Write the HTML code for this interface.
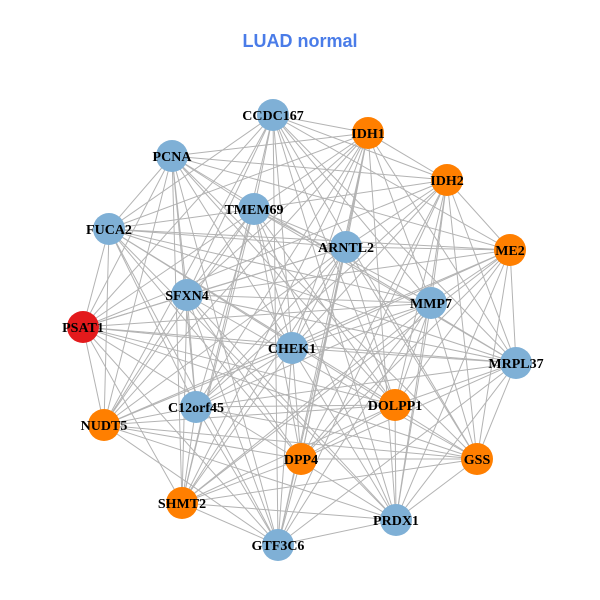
<!DOCTYPE html>
<html><head><meta charset="utf-8"><style>
html,body{margin:0;padding:0;background:#fff;}
svg{display:block;}
.t{font-family:"Liberation Sans",sans-serif;font-weight:bold;font-size:18px;fill:#4a7ce8;}
.l{font-family:"Liberation Serif",serif;font-weight:bold;font-size:14px;fill:#000;}
</style></head><body>
<svg id="s" width="600" height="600" viewBox="0 0 600 600" xmlns="http://www.w3.org/2000/svg">
<rect width="600" height="600" fill="#fff"/>
<text class="t" x="300" y="47" text-anchor="middle">LUAD normal</text>
<g id="e" stroke="#b3b3b3" stroke-width="1"></g>
<g id="n"></g>
</svg>
<script>
var N=[
["CCDC167",273,115,"b"],["IDH1",368,133,"o"],["IDH2",447,180,"o"],["PCNA",172,156,"b"],
["TMEM69",254,209,"b"],["FUCA2",109,229,"b"],["ARNTL2",346,247,"b"],["ME2",510,250,"o"],
["SFXN4",187,295,"b"],["MMP7",431,303,"b"],["PSAT1",83,327,"r"],["CHEK1",292,348,"b"],
["MRPL37",516,363,"b"],["C12orf45",196,407,"b"],["DOLPP1",395,405,"o"],["NUDT5",104,425,"o"],
["DPP4",301,459,"o"],["GSS",477,459,"o"],["SHMT2",182,503,"o"],["PRDX1",396,520,"b"],["GTF3C6",278,545,"b"]];
var C={b:"#7fb0d6",o:"#ff7f00",r:"#e31a1c"};
var ns="http://www.w3.org/2000/svg",E=document.getElementById("e"),G=document.getElementById("n");
for(var i=0;i<N.length;i++)for(var j=i+1;j<N.length;j++){
 if(((i*7+j*13)%10)>7)continue;
 var l=document.createElementNS(ns,"line");
 l.setAttribute("x1",N[i][1]);l.setAttribute("y1",N[i][2]);l.setAttribute("x2",N[j][1]);l.setAttribute("y2",N[j][2]);
 E.appendChild(l);}
N.forEach(function(d){
 var c=document.createElementNS(ns,"circle");c.setAttribute("cx",d[1]);c.setAttribute("cy",d[2]);c.setAttribute("r",16);c.setAttribute("fill",C[d[3]]);G.appendChild(c);
 var t=document.createElementNS(ns,"text");t.setAttribute("class","l");t.setAttribute("x",d[1]);t.setAttribute("y",d[2]+5);t.setAttribute("text-anchor","middle");t.textContent=d[0];G.appendChild(t);});
</script>
</body></html>
